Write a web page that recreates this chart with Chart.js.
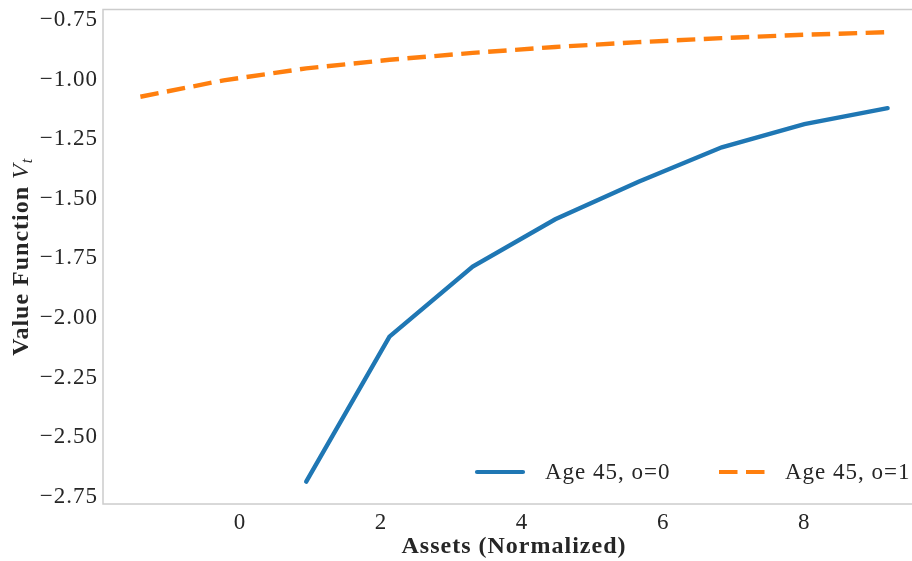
<!DOCTYPE html>
<html>
<head>
<meta charset="utf-8">
<script src="https://cdn.jsdelivr.net/npm/chart.js@4"></script>
<style>
  html, body { margin: 0; padding: 0; background: #fff; overflow: hidden; }
  #wrap { width: 930px; height: 561px; }
</style>
</head>
<body>
<div id="wrap"><canvas id="graph" width="930" height="561"></canvas></div>
<script>
// grid of normalized assets
var assets = [-1.41, -0.23, 0.94, 2.12, 3.30, 4.47, 5.65, 6.83, 8.00, 9.18];
// value function, owner status 0 (starts at the 3rd grid point)
var valueO0 = [null, null, -2.686, -2.078, -1.784, -1.586, -1.428, -1.284, -1.187, -1.120];
// value function, owner status 1
var valueO1 = [-1.072, -1.003, -0.953, -0.917, -0.888, -0.863, -0.843, -0.826, -0.812, -0.801];

var xTicks = [0, 2, 4, 6, 8];
var yTicks = [-2.75, -2.50, -2.25, -2.00, -1.75, -1.50, -1.25, -1.00, -0.75];

var labels = ['Age 45, o=0', 'Age 45, o=1'];
var colors = ['#1f77b4', '#ff7f0e'];

var serif = "'Liberation Serif', 'DejaVu Serif', serif";

function toPoints(ys) {
    var pts = [];
    ys.forEach(function (y, i) {
        if (y !== null) pts.push({ x: assets[i], y: y });
    });
    return pts;
}

function fmt(v) {
    return (v < 0 ? '\u2212' : '') + Math.abs(v).toFixed(2);
}

// wider text spacing, closer to the LaTeX look
var spacing = {
    id: 'spacing',
    beforeUpdate: function (chart) { chart.ctx.letterSpacing = '1px'; },
    beforeDraw: function (chart) { chart.ctx.letterSpacing = '1px'; }
};

// frame, y title with subscript, legend inside the plot
var decor = {
    id: 'decor',
    afterDraw: function (chart) {
        var ctx = chart.ctx;
        var a = chart.chartArea;
        ctx.save();
        ctx.strokeStyle = '#cccccc';
        ctx.lineWidth = 1.5;
        ctx.strokeRect(a.left, a.top, a.right - a.left, a.bottom - a.top);

        // y title
        ctx.translate(22, (a.top + a.bottom) / 2);
        ctx.rotate(-Math.PI / 2);
        ctx.fillStyle = '#262626';
        ctx.textBaseline = 'middle';
        var main = 'Value Function ';
        ctx.font = 'bold 24px ' + serif;
        var w1 = ctx.measureText(main).width;
        ctx.font = 'italic 24px ' + serif;
        var w2 = ctx.measureText('V').width;
        ctx.font = 'italic 16px ' + serif;
        var w3 = ctx.measureText('t').width;
        var x0 = -(w1 + w2 + w3) / 2;
        ctx.textAlign = 'left';
        ctx.font = 'bold 24px ' + serif;
        ctx.fillText(main, x0, 0);
        ctx.font = 'italic 24px ' + serif;
        ctx.fillText('V', x0 + w1, 0);
        ctx.font = 'italic 16px ' + serif;
        ctx.fillText('t', x0 + w1 + w2, 6);
        ctx.restore();

        // legend
        ctx.save();
        ctx.font = '23px ' + serif;
        ctx.fillStyle = '#262626';
        ctx.textBaseline = 'middle';
        var ly = 472;
        var items = [{ x: 477, tx: 545 }, { x: 719, tx: 785 }];
        chart.data.datasets.forEach(function (ds, i) {
            var it = items[i];
            ctx.strokeStyle = ds.borderColor;
            ctx.lineWidth = 4.2;
            ctx.setLineDash(ds.borderDash || []);
            ctx.lineCap = ds.borderDash ? 'butt' : 'round';
            ctx.beginPath();
            ctx.moveTo(it.x, ly);
            ctx.lineTo(it.x + 46, ly);
            ctx.stroke();
            ctx.setLineDash([]);
            ctx.fillText(ds.label, it.tx, ly + 1);
        });
        ctx.restore();
    }
};

var ctx = document.getElementById('graph').getContext('2d');
var chart = new Chart(ctx, {
    type: 'line',
    data: {
        datasets: [
            {
                label: labels[0],
                data: toPoints(valueO0),
                borderColor: colors[0],
                backgroundColor: colors[0],
                borderWidth: 4.4,
                pointRadius: 0,
                tension: 0,
                borderCapStyle: 'round'
            },
            {
                label: labels[1],
                data: toPoints(valueO1),
                borderColor: colors[1],
                backgroundColor: colors[1],
                borderWidth: 4.4,
                borderDash: [18.5, 8.5],
                pointRadius: 0,
                tension: 0
            }
        ]
    },
    options: {
        responsive: false,
        maintainAspectRatio: false,
        animation: false,
        layout: { padding: { top: 9.5, right: 5, left: 0, bottom: 0 } },
        scales: {
            x: {
                type: 'linear',
                min: -1.94,
                max: 9.71,
                afterBuildTicks: function (s) { s.ticks = xTicks.map(function (v) { return { value: v }; }); },
                afterFit: function (s) { s.height = 57; s.paddingLeft = 0; s.paddingRight = 0; },
                grid: { display: false, drawTicks: false },
                border: { display: false },
                ticks: {
                    color: '#262626',
                    padding: 5,
                    font: { family: serif, size: 23 },
                    maxRotation: 0,
                    callback: function (v) { return String(v); }
                },
                title: {
                    display: true,
                    text: 'Assets (Normalized)',
                    color: '#262626',
                    font: { family: serif, size: 24, weight: 'bold' },
                    padding: { top: 0, bottom: 0 }
                }
            },
            y: {
                type: 'linear',
                min: -2.78,
                max: -0.706,
                afterBuildTicks: function (s) { s.ticks = yTicks.map(function (v) { return { value: v }; }); },
                afterFit: function (s) { s.width = 103; s.paddingTop = 0; s.paddingBottom = 0; },
                grid: { display: false, drawTicks: false },
                border: { display: false },
                ticks: {
                    color: '#262626',
                    padding: 5,
                    font: { family: serif, size: 23 },
                    callback: function (v) { return fmt(v); }
                }
            }
        },
        plugins: {
            legend: { display: false },
            tooltip: { enabled: false }
        }
    },
    plugins: [spacing, decor]
});
</script>
</body>
</html>
